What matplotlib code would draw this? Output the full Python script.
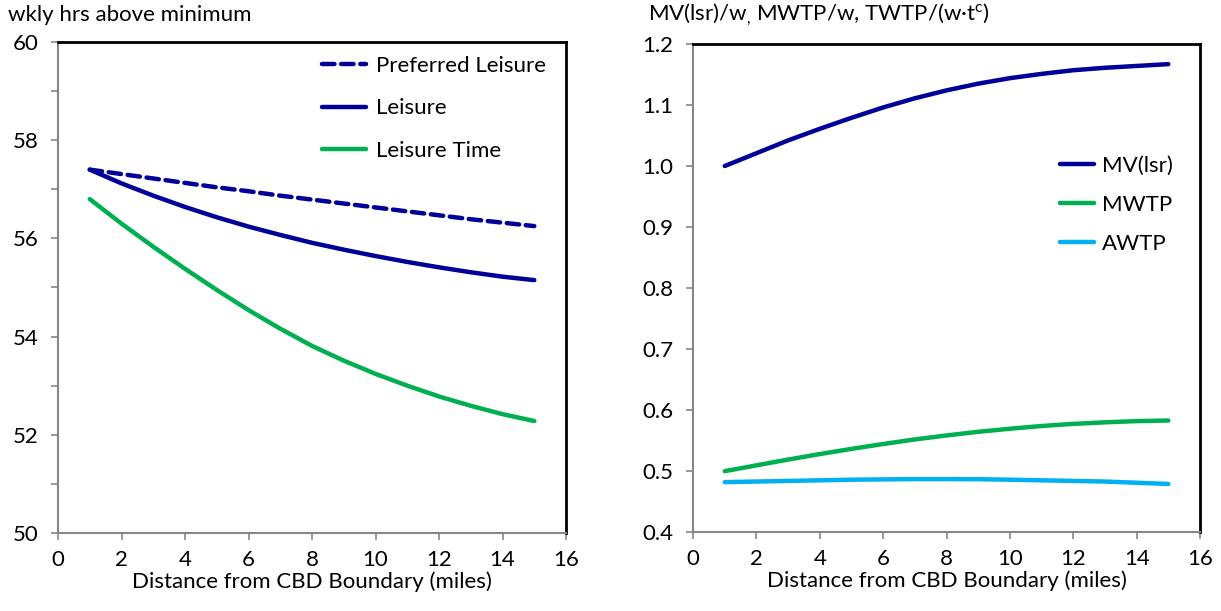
import matplotlib
matplotlib.use("Agg")
import matplotlib.pyplot as plt
from matplotlib.ticker import MultipleLocator

plt.rcParams['font.family'] = ['Lato', 'DejaVu Sans']
plt.rcParams['mathtext.fontset'] = 'custom'
plt.rcParams['mathtext.rm'] = 'Lato'
plt.rcParams['mathtext.it'] = 'Lato'

distance = [1, 2, 3, 4, 5, 6, 7, 8, 9, 10, 11, 12, 13, 14, 15]

preferred_leisure = [57.4, 57.31, 57.22, 57.13, 57.04, 56.96, 56.87, 56.79, 56.71, 56.63, 56.55, 56.47, 56.39, 56.32, 56.25]
leisure = [57.4, 57.12, 56.87, 56.64, 56.43, 56.24, 56.07, 55.91, 55.77, 55.64, 55.52, 55.41, 55.31, 55.22, 55.15]
leisure_time = [56.8, 56.30, 55.83, 55.38, 54.95, 54.54, 54.16, 53.81, 53.51, 53.24, 53.0, 52.78, 52.59, 52.42, 52.28]

mv_lsr = [1.0, 1.021, 1.042, 1.061, 1.079, 1.096, 1.111, 1.124, 1.135, 1.144, 1.151, 1.157, 1.161, 1.164, 1.167]
mwtp = [0.50, 0.5095, 0.519, 0.528, 0.5365, 0.5445, 0.552, 0.5585, 0.5645, 0.5695, 0.574, 0.5775, 0.580, 0.582, 0.583]
awtp = [0.482, 0.483, 0.484, 0.485, 0.486, 0.4865, 0.487, 0.487, 0.4868, 0.486, 0.485, 0.484, 0.483, 0.481, 0.479]

left_title = "wkly hrs above minimum"
right_title = "MV(lsr)/w$_{,}$ MWTP/w, TWTP/(w·t$^{c}$)"
xlabel = "Distance from CBD Boundary (miles)"

NAVY = "#000099"
GREEN = "#00B050"
CYAN = "#00B0F0"
GREY = "#868686"
FS = 16

fig = plt.figure(figsize=(12.21, 6.11), dpi=100)
ax1 = fig.add_axes([0.0475, 0.1277, 0.4161, 0.8036])
ax2 = fig.add_axes([0.5676, 0.129, 0.4152, 0.799])

lw = 3.2
ax1.plot(distance, preferred_leisure, color=NAVY, lw=lw, ls=(0, (2.8, 1.5)), dash_capstyle='round',
         solid_capstyle='round', label="Preferred Leisure")
ax1.plot(distance, leisure, color=NAVY, lw=lw, solid_capstyle='round', label="Leisure")
ax1.plot(distance, leisure_time, color=GREEN, lw=lw, solid_capstyle='round', label="Leisure Time")

ax2.plot(distance, mv_lsr, color=NAVY, lw=lw, solid_capstyle='round', label="MV(lsr)")
ax2.plot(distance, mwtp, color=GREEN, lw=lw, solid_capstyle='round', label="MWTP")
ax2.plot(distance, awtp, color=CYAN, lw=lw, solid_capstyle='round', label="AWTP")

ax1.set_xlim(0, 16)
ax1.set_ylim(50, 60)
ax1.yaxis.set_major_locator(MultipleLocator(2))
ax1.yaxis.set_minor_locator(MultipleLocator(1))
ax2.set_xlim(0, 16)
ax2.set_ylim(0.4, 1.2)
ax2.yaxis.set_major_locator(MultipleLocator(0.1))
ax2.yaxis.set_major_formatter(matplotlib.ticker.FormatStrFormatter('%.1f'))

for ax in (ax1, ax2):
    ax.xaxis.set_major_locator(MultipleLocator(2))
    for s in ('top', 'right'):
        ax.spines[s].set_color('black')
        ax.spines[s].set_linewidth(2.0)
    for s in ('left', 'bottom'):
        ax.spines[s].set_color(GREY)
        ax.spines[s].set_linewidth(1.5)
    ax.tick_params(which='both', direction='out', length=5, width=1.2, color=GREY,
                   labelsize=FS, labelcolor='black', pad=7)
    ax.set_xlabel(xlabel, fontsize=FS, labelpad=1)

ax1.tick_params(axis='y', pad=9)
ax2.tick_params(axis='y', pad=9)

leg1 = ax1.legend(loc='upper right', bbox_to_anchor=(1.0, 1.012), frameon=False, fontsize=FS,
                  handlelength=2.0, handletextpad=0.45, labelspacing=1.0)
leg2 = ax2.legend(loc='upper right', bbox_to_anchor=(0.985, 0.812), frameon=False, fontsize=FS,
                  handlelength=1.5, handletextpad=0.35, labelspacing=0.85)

fig.text(8/1221, 1 - 15/611, left_title, fontsize=FS, va='center', ha='left')
fig.text(648/1221, 1 - 15/611, right_title, fontsize=FS, va='center', ha='left')

fig.savefig("out.png", dpi=100)
